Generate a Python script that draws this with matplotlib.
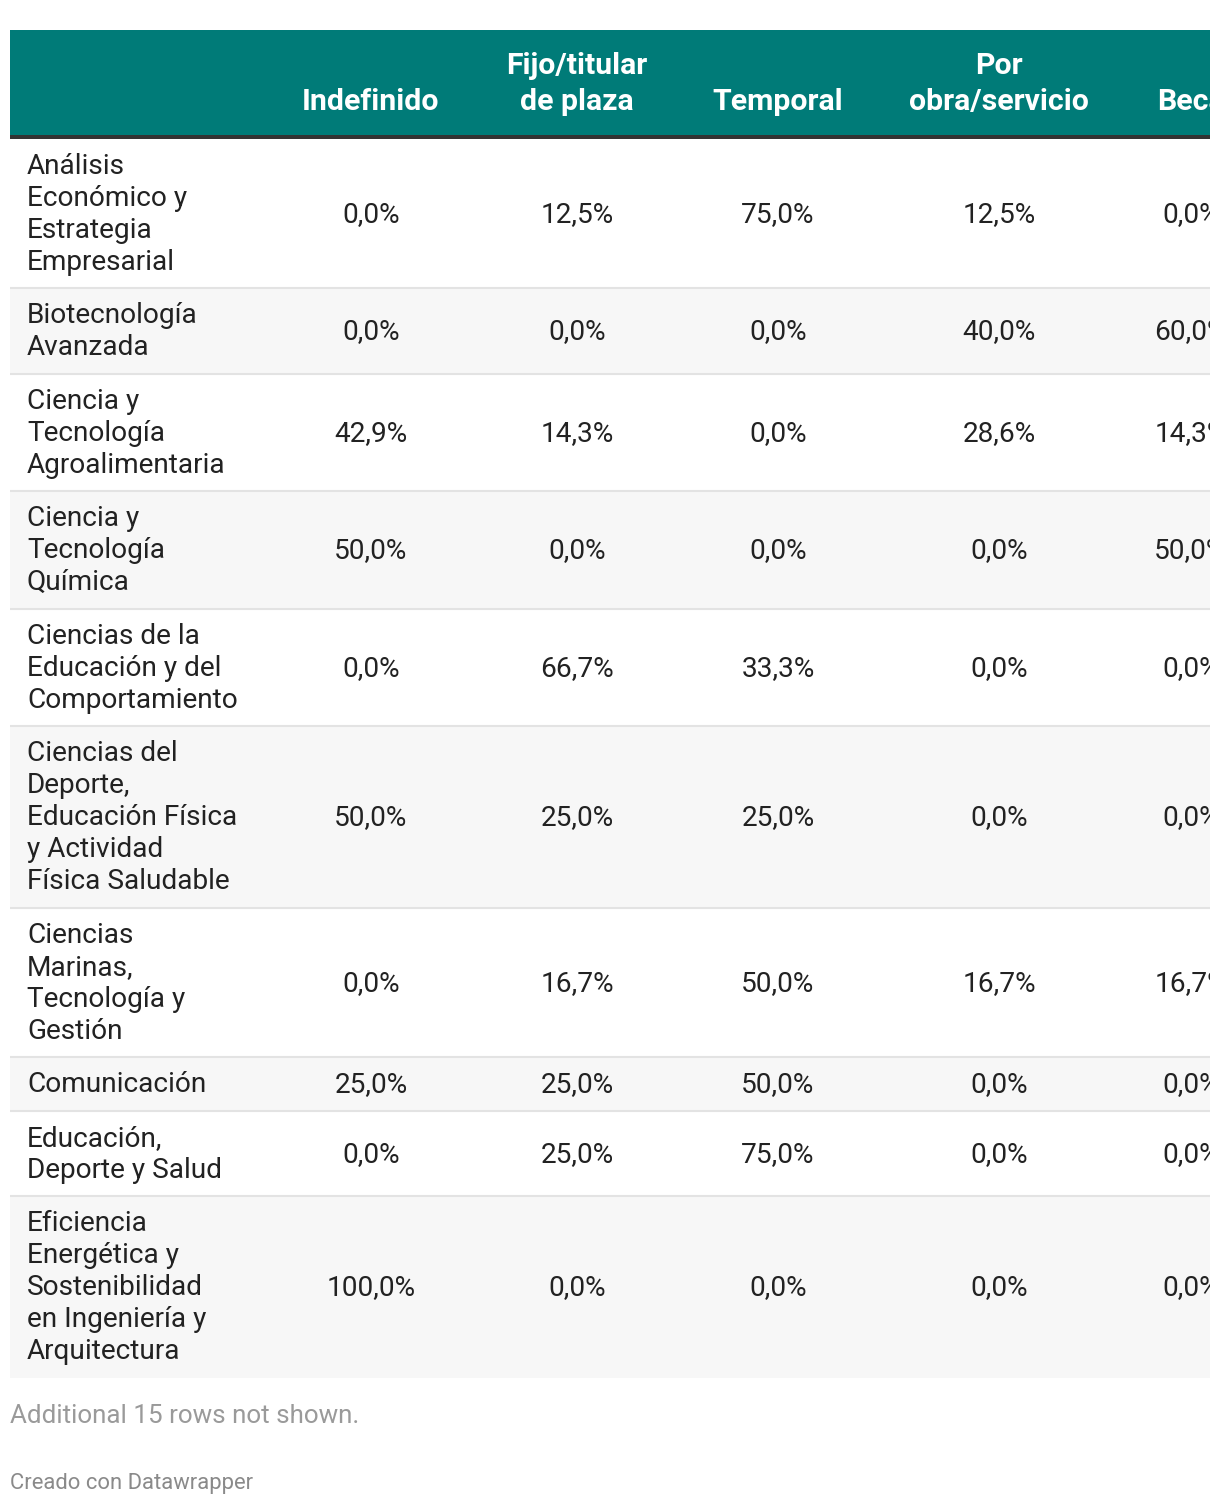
import matplotlib.pyplot as plt
from matplotlib.patches import Rectangle

plt.rcParams['font.family'] = ['Roboto', 'DejaVu Sans']

# datos de la tabla
columnas = ['Indefinido', 'Fijo/titular\nde plaza', 'Temporal', 'Por\nobra/servicio', 'Beca']
titulaciones = [
    'Análisis\nEconómico y\nEstrategia\nEmpresarial',
    'Biotecnología\nAvanzada',
    'Ciencia y\nTecnología\nAgroalimentaria',
    'Ciencia y\nTecnología\nQuímica',
    'Ciencias de la\nEducación y del\nComportamiento',
    'Ciencias del\nDeporte,\nEducación Física\ny Actividad\nFísica Saludable',
    'Ciencias\nMarinas,\nTecnología y\nGestión',
    'Comunicación',
    'Educación,\nDeporte y Salud',
    'Eficiencia\nEnergética y\nSostenibilidad\nen Ingeniería y\nArquitectura',
]
indefinido = [0.0, 0.0, 42.9, 50.0, 0.0, 50.0, 0.0, 25.0, 0.0, 100.0]
fijo = [12.5, 0.0, 14.3, 0.0, 66.7, 25.0, 16.7, 25.0, 25.0, 0.0]
temporal = [75.0, 0.0, 0.0, 0.0, 33.3, 25.0, 50.0, 50.0, 75.0, 0.0]
obra = [12.5, 40.0, 28.6, 0.0, 0.0, 0.0, 16.7, 0.0, 0.0, 0.0]
beca = [0.0, 60.0, 14.3, 50.0, 0.0, 0.0, 16.7, 0.0, 0.0, 0.0]
nota = 'Additional 15 rows not shown.'
credito = 'Creado con Datawrapper'

valores = [indefinido, fijo, temporal, obra, beca]
col_x = [371, 577, 778, 999, 1191]

W, H = 1220, 1506
fig = plt.figure(figsize=(W / 100, H / 100), dpi=100)
ax = fig.add_axes([10 / W, 0, 1200 / W, 1])
ax.set_xlim(10, 1210)
ax.set_ylim(H, 0)
ax.axis('off')

fs = 20.2   # tamaño del cuerpo
lh = 32     # alto de linea en px

# cabecera
ax.add_patch(Rectangle((10, 30), 1200, 105, color='#007b78', lw=0))
ax.add_patch(Rectangle((10, 135), 1200, 3.5, color='#333333', lw=0))
for x, c in zip(col_x, columnas):
    lineas = c.split('\n')
    for k, l in enumerate(lineas):
        y = 101.5 - (len(lineas) - 1 - k) * 36
        ax.text(x, y, l, ha='center', va='center', color='white',
                fontsize=21.8, fontweight='bold', clip_on=True)

# filas
top = 138.5
for i, t in enumerate(titulaciones):
    lineas = t.split('\n')
    alto = lh * len(lineas) + 21.5
    if i % 2 == 1:
        ax.add_patch(Rectangle((10, top), 1200, alto, color='#f7f7f7', lw=0))
    centro = top + alto / 2 + 1
    for k, l in enumerate(lineas):
        y = centro + (k - (len(lineas) - 1) / 2) * lh
        ax.text(27, y, l, ha='left', va='center', color='#222222', fontsize=fs)
    for x, serie in zip(col_x, valores):
        s = f'{serie[i]:.1f}%'.replace('.', ',')
        ax.text(x, centro, s, ha='center', va='center', color='#222222',
                fontsize=fs, clip_on=True)
    top += alto
    if i < len(titulaciones) - 1:
        ax.plot([10, 1210], [top, top], color='#e3e3e3', lw=1.5)

ax.text(10, 1416, nota, ha='left', va='center', color='#9a9a9a', fontsize=18.7)
ax.text(10, 1483, credito, ha='left', va='center', color='#8a8a8a', fontsize=15.8)

fig.savefig('out.png', dpi=100)
